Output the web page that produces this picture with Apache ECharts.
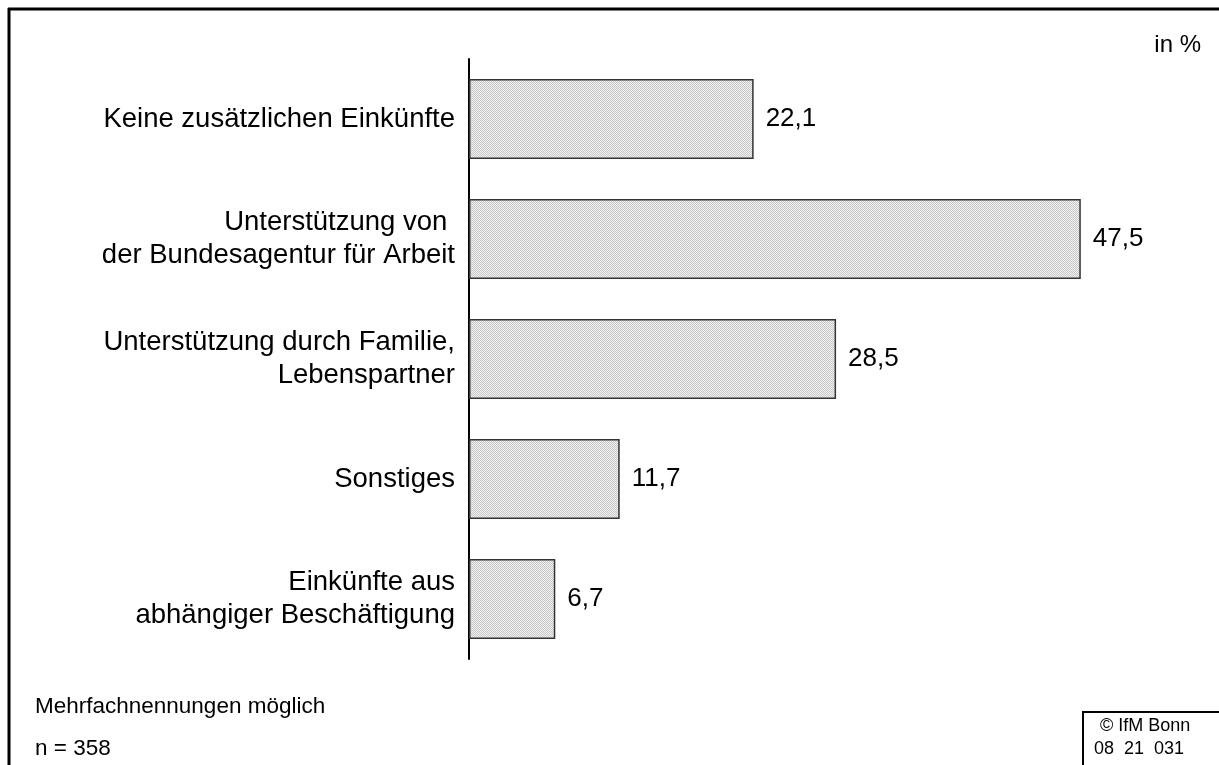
<!DOCTYPE html>
<html>
<head>
<meta charset="utf-8">
<script src="https://cdn.jsdelivr.net/npm/echarts@6/dist/echarts.min.js"></script>
<style>
html,body{margin:0;padding:0;background:#fff;}
#c{width:1219px;height:765px;}
</style>
</head>
<body>
<div id="c"></div>
<script>
var categories = [
  "Keine zusätzlichen Einkünfte",
  "Unterstützung von \nder Bundesagentur für Arbeit",
  "Unterstützung durch Familie,\nLebenspartner",
  "Sonstiges",
  "Einkünfte aus\nabhängiger Beschäftigung"
];
var values = [22.1, 47.5, 28.5, 11.7, 6.7];
var unitLabel = "in %";
var noteLines = ["Mehrfachnennungen möglich", "n = 358"];
var sourceLines = ["© IfM Bonn", "08  21  031"];

var pc = document.createElement('canvas');
pc.width = 2; pc.height = 2;
var g = pc.getContext('2d');
g.fillStyle = '#f0f0f0'; g.fillRect(0,0,2,2);
g.fillStyle = '#c8c8c8'; g.fillRect(0,0,1,1); g.fillRect(1,1,1,1);

var FONT = '"Liberation Sans", Arial, sans-serif';
var chart = echarts.init(document.getElementById('c'), null, {renderer:'canvas'});
chart.setOption({
  animation: false,
  backgroundColor: '#fff',
  grid: {left: 469, right: 106, top: 59, bottom: 106},
  xAxis: {type: 'value', min: 0, max: 50, show: false},
  yAxis: {
    type: 'category', data: categories, inverse: true,
    axisLine: {show: true, lineStyle: {color: '#000', width: 2}},
    axisTick: {show: false},
    axisLabel: {color: '#000', fontSize: 27.5, fontFamily: FONT, margin: 14, lineHeight: 33}
  },
  series: [{
    type: 'bar', data: values, barWidth: 80,
    itemStyle: {color: {image: pc, repeat: 'repeat'}, borderColor: '#333', borderWidth: 1.5},
    label: {show: true, position: 'right', distance: 12, color: '#000', fontSize: 26, fontFamily: FONT,
      formatter: function(p){ return p.value.toFixed(1).replace('.', ','); }}
  }],
  graphic: [
    {type: 'line', shape: {x1: 8, y1: 9, x2: 1219, y2: 9}, style: {stroke: '#000', lineWidth: 3}},
    {type: 'line', shape: {x1: 9, y1: 8, x2: 9, y2: 765}, style: {stroke: '#000', lineWidth: 3}},
    {type: 'text', right: 18, top: 33, style: {text: unitLabel, fontSize: 24, fontFamily: FONT, fill: '#000'}},
    {type: 'text', left: 35, top: 695, style: {text: noteLines[0], fontSize: 22.5, fontFamily: FONT, fill: '#000'}},
    {type: 'text', left: 35, top: 737, style: {text: noteLines[1], fontSize: 22.5, fontFamily: FONT, fill: '#000'}},
    {type: 'polyline', shape: {points: [[1083, 765], [1083, 712], [1219, 712]]}, style: {stroke: '#000', lineWidth: 2, fill: null}},
    {type: 'text', left: 1100, top: 717, style: {text: sourceLines[0], fontSize: 18, fontFamily: FONT, fill: '#000'}},
    {type: 'text', left: 1094, top: 740, style: {text: sourceLines[1], fontSize: 18, fontFamily: FONT, fill: '#000'}}
  ]
});
</script>
</body>
</html>
